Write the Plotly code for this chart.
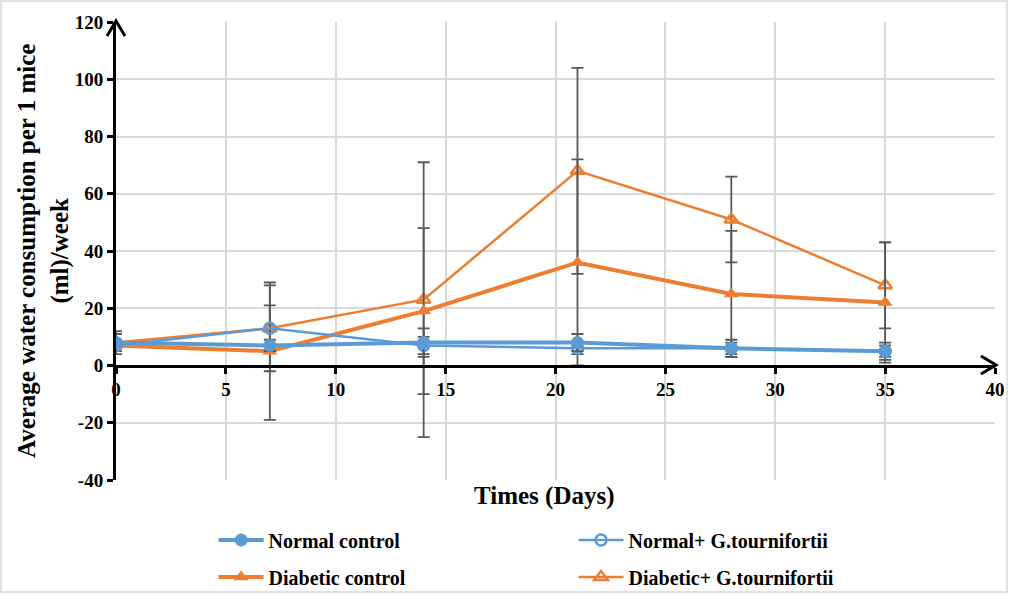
import plotly.graph_objects as go

days = [0, 7, 14, 21, 28, 35]

normal_control = [8, 7, 8, 8, 6, 5]
normal_control_err = [4, 2, 5, 3, 3, 3]

normal_g = [7, 13, 7, 6, 6, 5]
normal_g_err = [2, 8, 3, 2, 2, 2]

diabetic_control = [7, 5, 19, 36, 25, 22]
diabetic_control_err = [2, 24, 29, 36, 22, 21]

diabetic_g = [8, 13, 23, 68, 51, 28]
diabetic_g_err = [3, 15, 48, 36, 15, 15]

y_ticks = [-40, -20, 0, 20, 40, 60, 80, 100, 120]
y_tick_labels = ["-40", "-20", "0", "20", "40", "60", "80", "100", "120"]

BLUE = "#5b9bd5"
ORANGE = "#ed7d31"
ERR = "#595959"
FONT = "Liberation Serif"

fig = go.Figure()

def err(vals):
    return dict(type="data", array=vals, visible=True, color=ERR, thickness=1.8, width=6)

fig.add_trace(go.Scatter(x=days, y=diabetic_g, name="Diabetic+ G.tournifortii", mode="lines+markers",
                         line=dict(color=ORANGE, width=2.5),
                         marker=dict(symbol="triangle-up-open", size=12, color=ORANGE, line=dict(width=2.5)),
                         error_y=err(diabetic_g_err), legend="legend2", legendrank=2))
fig.add_trace(go.Scatter(x=days, y=diabetic_control, name="Diabetic control", mode="lines+markers",
                         line=dict(color=ORANGE, width=4),
                         marker=dict(symbol="triangle-up", size=13, color=ORANGE),
                         error_y=err(diabetic_control_err), legend="legend2", legendrank=1))
fig.add_trace(go.Scatter(x=days, y=normal_g, name="Normal+ G.tournifortii", mode="lines+markers",
                         line=dict(color=BLUE, width=2.5),
                         marker=dict(symbol="circle-open", size=11, color=BLUE, line=dict(width=2.5)),
                         error_y=err(normal_g_err), legend="legend", legendrank=2))
fig.add_trace(go.Scatter(x=days, y=normal_control, name="Normal control", mode="lines+markers",
                         line=dict(color=BLUE, width=4),
                         marker=dict(symbol="circle", size=13, color=BLUE),
                         error_y=err(normal_control_err), legend="legend", legendrank=1))

legend_common = dict(orientation="h", xanchor="left", yanchor="middle",
                     entrywidth=300, entrywidthmode="pixels", traceorder="normal",
                     font=dict(family=FONT, size=20, color="black", weight="bold"),
                     itemwidth=45, bgcolor="rgba(0,0,0,0)")

fig.update_layout(
    width=1009, height=594,
    margin=dict(l=116, r=14, t=22, b=114, autoexpand=False),
    paper_bgcolor="white", plot_bgcolor="white",
    font=dict(family=FONT, size=17, color="black"),
    xaxis=dict(range=[0, 40], dtick=5, showgrid=True, gridcolor="#d9d9d9", gridwidth=1.5,
               zeroline=False, showline=True, linecolor="black", linewidth=3,
               ticks="outside", ticklen=6, tickwidth=3, tickcolor="black",
               anchor="free", position=0.25,
               tickfont=dict(family=FONT, size=19, color="black", weight="bold")),
    yaxis=dict(range=[-40, 120], tickvals=y_ticks, ticktext=y_tick_labels,
               showgrid=True, gridcolor="#d9d9d9", gridwidth=1.5,
               zeroline=False, showline=True, linecolor="black", linewidth=3,
               ticks="outside", ticklen=6, tickwidth=3, tickcolor="black",
               tickfont=dict(family=FONT, size=19, color="black", weight="bold")),
    legend=dict(x=0.111, y=(480 - 540) / 458, **legend_common),
    legend2=dict(x=0.111, y=(480 - 577) / 458, **legend_common),
    showlegend=True,
)

fig.add_annotation(text="<b>Times (Days)</b>", xref="paper", yref="paper", x=0.488, y=0.0,
                   xanchor="center", yanchor="top", showarrow=False,
                   font=dict(family=FONT, size=25, color="black"))
fig.add_annotation(text="<b>Average water consumption per 1 mice<br>(ml)/week</b>", xref="paper", yref="paper",
                   x=-0.083, y=0.5, xanchor="center", yanchor="middle", textangle=-90, showarrow=False,
                   font=dict(family=FONT, size=25, color="black"))

# axis arrow heads (paper coordinates, outside data)
fig.add_shape(type="path", xref="paper", yref="paper",
              path="M %.5f,%.5f L %.5f,%.5f L %.5f,%.5f" % ((981 - 116) / 879, (480 - 356) / 458,
                                                           (996 - 116) / 879, (480 - 365) / 458,
                                                           (981 - 116) / 879, (480 - 374) / 458),
              line=dict(color="black", width=3))
fig.add_shape(type="path", xref="paper", yref="paper",
              path="M %.5f,%.5f L %.5f,%.5f L %.5f,%.5f" % ((107 - 116) / 879, (480 - 36) / 458,
                                                           0, (480 - 21) / 458,
                                                           (125 - 116) / 879, (480 - 36) / 458),
              line=dict(color="black", width=3))

# outer border
fig.add_shape(type="rect", xref="paper", yref="paper",
              x0=(1 - 116) / 879, x1=(1007 - 116) / 879, y0=(480 - 592) / 458, y1=(480 - 1) / 458,
              line=dict(color="#d9d9d9", width=1.5), fillcolor="rgba(0,0,0,0)", layer="below")

fig.write_html("out.html")
